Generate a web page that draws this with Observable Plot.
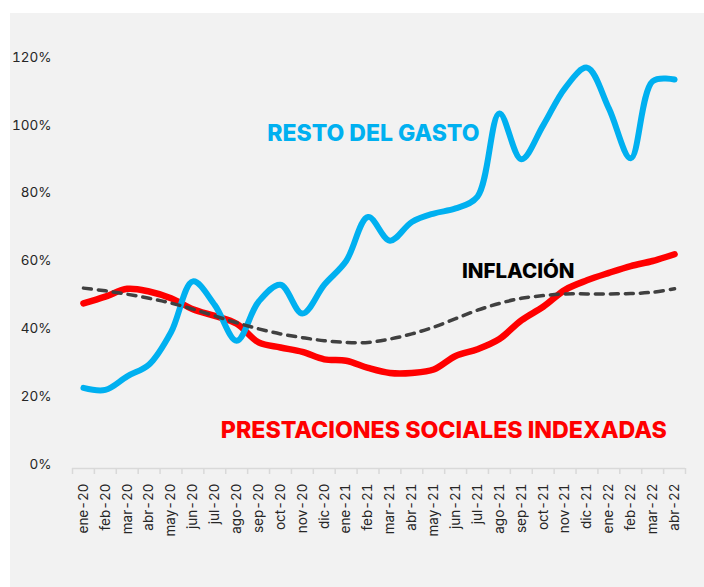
<!DOCTYPE html>
<html>
<head>
<meta charset="utf-8">
<script src="https://cdn.jsdelivr.net/npm/d3@7"></script>
<script src="https://cdn.jsdelivr.net/npm/@observablehq/plot@0.6"></script>
<style>
  html, body { margin: 0; padding: 0; background: #ffffff; }
  #wrap { position: absolute; left: 10px; top: 13px; width: 694px; height: 574px; background: #f2f2f2; }
</style>
</head>
<body>
<div id="wrap"></div>
<script>
const months = ["ene-20","feb-20","mar-20","abr-20","may-20","jun-20","jul-20","ago-20","sep-20","oct-20","nov-20","dic-20",
  "ene-21","feb-21","mar-21","abr-21","may-21","jun-21","jul-21","ago-21","sep-21","oct-21","nov-21","dic-21",
  "ene-22","feb-22","mar-22","abr-22"];
const restoGasto = [22.6, 22, 26, 29.5, 39, 54, 47, 36.5, 48, 53, 44.5, 53, 60, 73, 66, 71.5, 74, 75.5, 79, 103.5, 90, 100, 111, 117, 105, 90.3, 113, 113.5];
const prestaciones = [47.5, 49.5, 51.8, 51, 49, 45.8, 43.8, 41.5, 36, 34.5, 33.2, 31, 30.6, 28.5, 27, 27, 28, 32, 34, 37, 42.5, 46.5, 51.5, 54.3, 56.5, 58.5, 60, 62];
const inflacion = [52, 51.2, 50.2, 49, 47.6, 45.8, 43.8, 41.8, 40, 38.5, 37.4, 36.5, 36, 36, 37, 38.5, 40.5, 43, 45.5, 47.5, 49, 49.8, 50.3, 50.3, 50.3, 50.4, 50.8, 51.8];
const yTicks = [0, 20, 40, 60, 80, 100, 120];

const idx = months.map((m, i) => i);
const bounds = d3.range(months.length + 1).map(i => i - 0.5);
const rows = (vals) => vals.map((v, i) => ({i, v}));

const chart = Plot.plot({
  width: 694,
  height: 574,
  marginLeft: 62,
  marginRight: 19,
  marginTop: 44,
  marginBottom: 123,
  style: {background: "transparent", fontFamily: "Inter, sans-serif"},
  x: {domain: [-0.5, months.length - 0.5], axis: null, label: null},
  y: {domain: [0, 120], axis: null, label: null},
  marks: [
    Plot.axisY({ticks: yTicks, tickFormat: d => d + "%", tickSize: 0, tickPadding: 21, fontSize: 13.5, color: "#262626", anchor: "left", label: null}),
    Plot.ruleY([0], {stroke: "#d9d9d9", strokeWidth: 1.5, dy: 4}),
    Plot.axisX({ticks: bounds, tickFormat: () => "", tickSize: 6, stroke: "#d9d9d9", strokeWidth: 1.5, dy: 4, label: null}),
    Plot.axisX({ticks: idx, tickFormat: i => months[i], tickSize: 0, tickPadding: 19, tickRotate: -90, fontSize: 13.5, color: "#262626", label: null}),
    Plot.line(rows(prestaciones), {x: "i", y: "v", stroke: "#ff0000", strokeWidth: 6.5, curve: "catmull-rom", strokeLinecap: "round"}),
    Plot.line(rows(restoGasto), {x: "i", y: "v", stroke: "#00b0f0", strokeWidth: 6, curve: "catmull-rom", strokeLinecap: "round"}),
    Plot.line(rows(inflacion), {x: "i", y: "v", stroke: "#404040", strokeWidth: 3.5, strokeDasharray: "8,7", curve: "catmull-rom", strokeLinecap: "round"}),
    Plot.text(["RESTO DEL GASTO"], {x: 13.24, y: 97.5, text: d => d, fill: "#00b0f0", fontSize: 23, fontWeight: 800, textAnchor: "middle"}),
    Plot.text(["PRESTACIONES SOCIALES INDEXADAS"], {x: 16.46, y: 10, text: d => d, fill: "#ff0000", fontSize: 23.2, fontWeight: 800, textAnchor: "middle"}),
    Plot.text(["INFLACIÓN"], {x: 19.86, y: 57, text: d => d, fill: "#000000", fontSize: 20.5, fontWeight: 800, textAnchor: "middle"})
  ]
});
document.getElementById("wrap").appendChild(chart);
</script>
</body>
</html>
